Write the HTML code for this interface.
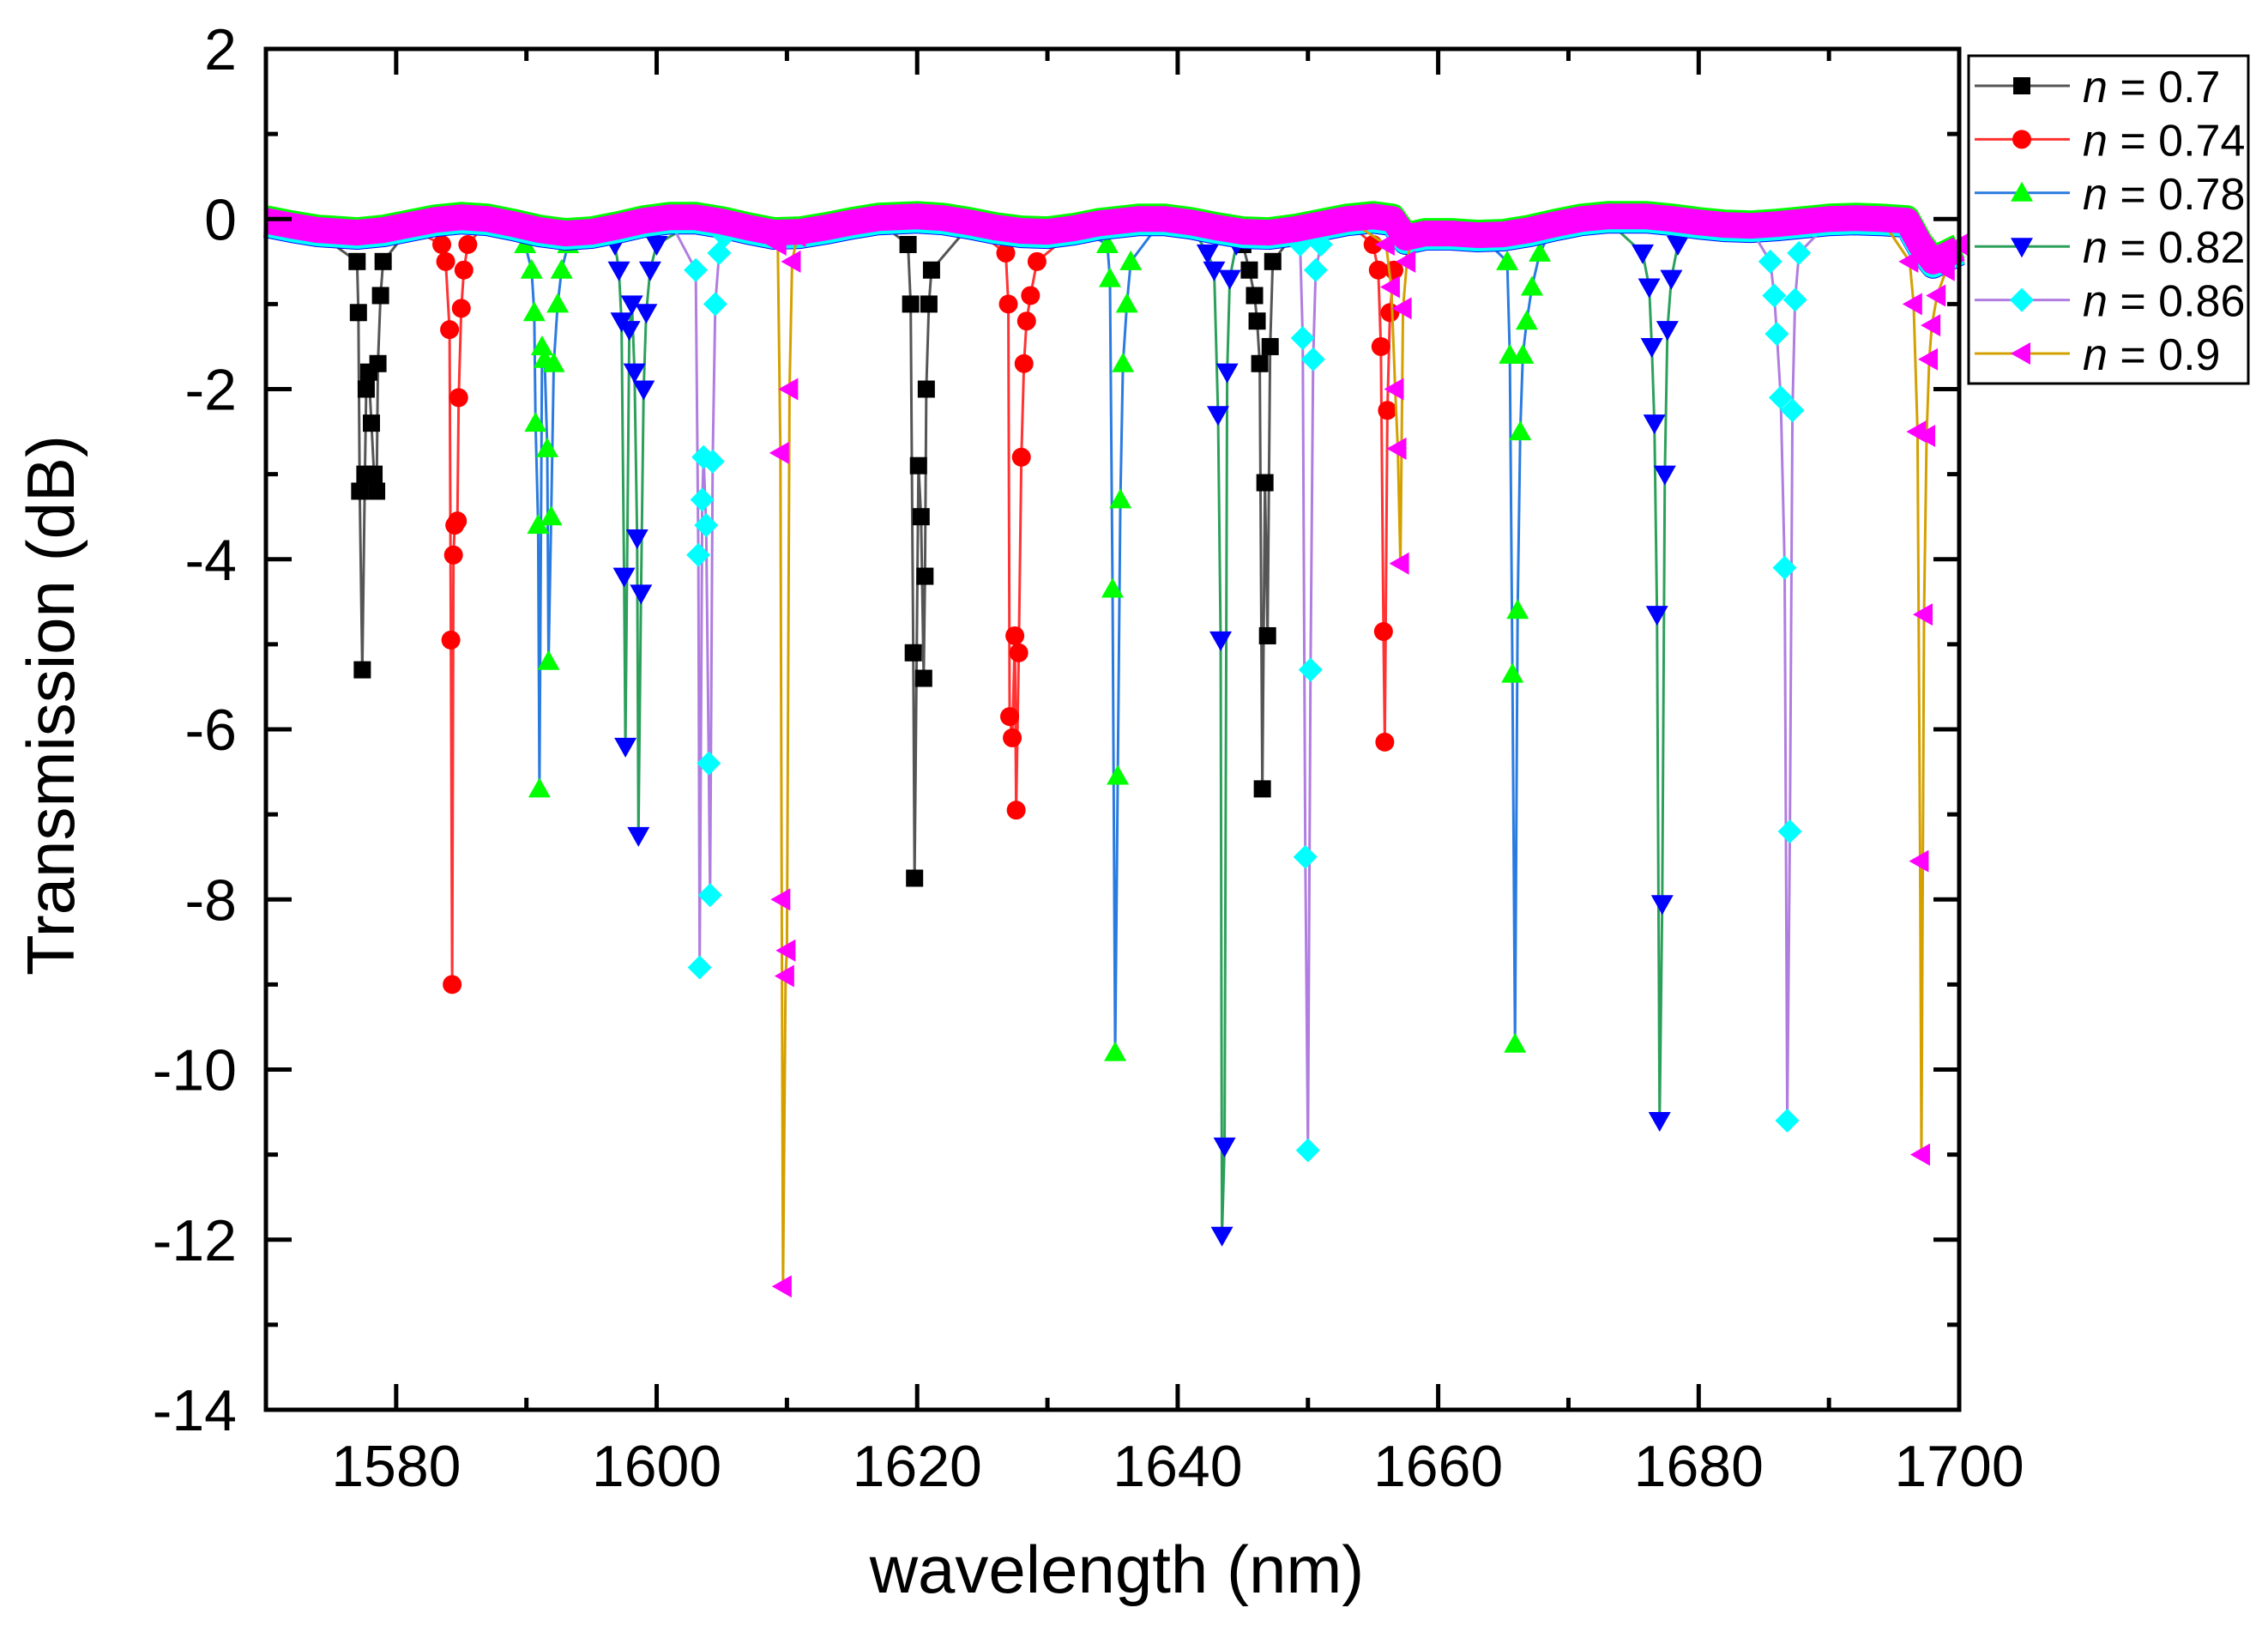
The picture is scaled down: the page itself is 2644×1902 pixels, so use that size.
<!DOCTYPE html>
<html><head><meta charset="utf-8"><style>
html,body{margin:0;padding:0;background:#fff}
svg{display:block;font-family:"Liberation Sans",sans-serif}
</style></head><body>
<svg id="chart" width="2644" height="1902" viewBox="0 0 2644 1902" xmlns="http://www.w3.org/2000/svg">
<g id="plot"></g>
<g id="axes"></g>
<text x="1302" y="1856" font-size="78" text-anchor="middle">wavelength (nm)</text>
<text transform="translate(86,822) rotate(-90)" font-size="78" text-anchor="middle">Transmission (dB)</text>
<g id="legend"></g>
</svg>
<script>
const xTicks = [1580,1600,1620,1640,1660,1680,1700];
const yTicks = [2,0,-2,-4,-6,-8,-10,-12,-14];
const seriesNames = ["0.7","0.74","0.78","0.82","0.86","0.9"];
const baseWl = [1570,1572,1574,1577,1579,1581,1583,1585,1587,1589,1591,1593,1595,1597,1599,1601,1603,1605,1607,1609,1611,1613,1615,1617,1620,1622,1624,1626,1628,1630,1632,1634,1637,1639,1641,1643,1645,1647,1649,1651,1653,1655,1656.5,1657.5,1659,1661,1663,1665,1667,1669,1671,1673,1676,1678,1680,1682,1684,1686,1688,1690,1692,1694,1696,1697,1698,1700];
const baseVal = [-0.02,-0.08,-0.13,-0.16,-0.13,-0.07,-0.01,0.02,0.0,-0.06,-0.13,-0.17,-0.15,-0.09,-0.02,0.02,0.02,-0.03,-0.1,-0.16,-0.15,-0.1,-0.04,0.01,0.03,0.01,-0.04,-0.1,-0.14,-0.15,-0.11,-0.05,0.0,0.0,-0.04,-0.1,-0.15,-0.16,-0.12,-0.06,0.0,0.03,0.0,-0.22,-0.17,-0.17,-0.19,-0.18,-0.13,-0.06,0.0,0.03,0.03,0.0,-0.04,-0.07,-0.08,-0.06,-0.03,0.0,0.01,0.0,-0.02,-0.3,-0.5,-0.35];
const dips07 = [[1577.0,-0.5],[1577.1,-1.1],[1577.2,-3.2],[1577.4,-5.3],[1577.6,-3.0],[1577.7,-2.0],[1577.9,-1.8],[1578.1,-2.4],[1578.3,-3.0],[1578.5,-3.2],[1578.6,-1.7],[1578.8,-0.9],[1579.0,-0.5],
 [1619.3,-0.3],[1619.5,-1.0],[1619.7,-5.1],[1619.8,-7.75],[1620.1,-2.9],[1620.3,-3.5],[1620.5,-5.4],[1620.6,-4.2],[1620.7,-2.0],[1620.9,-1.0],[1621.1,-0.6],
 [1645.0,-0.3],[1645.5,-0.6],[1645.9,-0.9],[1646.1,-1.2],[1646.3,-1.7],[1646.5,-6.7],[1646.7,-3.1],[1646.9,-4.9],[1647.1,-1.5],[1647.3,-0.5]];
const dips074 = [[1583.5,-0.3],[1583.8,-0.5],[1584.1,-1.3],[1584.2,-4.95],[1584.3,-9.0],[1584.4,-3.95],[1584.5,-3.6],[1584.7,-3.55],[1584.8,-2.1],[1585.0,-1.05],[1585.2,-0.6],[1585.5,-0.3],
 [1626.8,-0.4],[1627.0,-1.0],[1627.1,-5.85],[1627.3,-6.1],[1627.5,-4.9],[1627.6,-6.95],[1627.8,-5.1],[1628.0,-2.8],[1628.2,-1.7],[1628.4,-1.2],[1628.7,-0.9],[1629.2,-0.5],
 [1655.0,-0.3],[1655.4,-0.6],[1655.6,-1.5],[1655.8,-4.85],[1655.9,-6.15],[1656.1,-2.25],[1656.3,-1.1],[1656.6,-0.6]];
const dips078 = [[1589.9,-0.3],[1590.4,-0.6],[1590.6,-1.1],[1590.7,-2.4],[1590.9,-3.6],[1591.0,-6.7],[1591.2,-1.5],[1591.4,-1.65],[1591.6,-2.7],[1591.7,-5.2],[1591.9,-3.5],[1592.1,-1.7],[1592.4,-1.0],[1592.7,-0.6],[1593.2,-0.3],
 [1634.6,-0.3],[1634.8,-0.7],[1635.0,-4.35],[1635.2,-9.8],[1635.4,-6.55],[1635.6,-3.3],[1635.8,-1.7],[1636.1,-1.0],[1636.4,-0.5],
 [1665.3,-0.5],[1665.5,-1.6],[1665.7,-5.35],[1665.9,-9.7],[1666.1,-4.6],[1666.3,-2.5],[1666.5,-1.6],[1666.8,-1.2],[1667.2,-0.8],[1667.8,-0.4]];
const dips082 = [[1596.8,-0.3],[1597.1,-0.6],[1597.3,-1.2],[1597.5,-4.2],[1597.6,-6.2],[1597.9,-1.3],[1598.1,-1.0],[1598.3,-1.8],[1598.5,-3.75],[1598.6,-7.25],[1598.8,-4.4],[1599.0,-2.0],[1599.2,-1.1],[1599.5,-0.6],[1600.0,-0.3],
 [1642.3,-0.4],[1642.8,-0.6],[1643.1,-2.3],[1643.3,-4.95],[1643.4,-11.95],[1643.6,-10.9],[1643.8,-1.8],[1644.0,-0.7],[1644.5,-0.3],
 [1675.7,-0.4],[1676.2,-0.8],[1676.4,-1.5],[1676.6,-2.4],[1676.8,-4.65],[1677.0,-10.6],[1677.2,-8.05],[1677.4,-3.0],[1677.6,-1.3],[1677.9,-0.7],[1678.4,-0.3]];
const dips086 = [[1603.0,-0.6],[1603.2,-3.95],[1603.3,-8.8],[1603.5,-3.3],[1603.6,-2.8],[1603.8,-3.6],[1604.0,-6.4],[1604.1,-7.95],[1604.3,-2.85],[1604.5,-1.0],[1604.8,-0.4],[1605.2,-0.2],
 [1649.4,-0.3],[1649.6,-1.4],[1649.8,-7.5],[1650.0,-10.95],[1650.2,-5.3],[1650.4,-1.65],[1650.6,-0.6],[1651.0,-0.3],
 [1685.5,-0.5],[1685.8,-0.9],[1686.0,-1.35],[1686.3,-2.1],[1686.6,-4.1],[1686.8,-10.6],[1687.0,-7.2],[1687.2,-2.25],[1687.4,-0.95],[1687.7,-0.4]];
const dips090 = [[1609.3,-0.3],[1609.5,-2.75],[1609.6,-8.0],[1609.7,-12.55],[1609.9,-8.9],[1610.0,-8.6],[1610.2,-2.0],[1610.4,-0.5],[1610.8,-0.2],
 [1656.0,-0.3],[1656.4,-0.8],[1656.7,-2.0],[1656.9,-2.7],[1657.1,-4.05],[1657.3,-1.05],[1657.6,-0.5],[1658.0,-0.2],
 [1696.2,-0.5],[1696.5,-1.0],[1696.8,-2.5],[1697.0,-7.55],[1697.1,-11.0],[1697.3,-4.65],[1697.5,-2.55],[1697.7,-1.65],[1697.9,-1.25],[1698.3,-0.9],[1699.0,-0.6],[1700.0,-0.3]];

const NS="http://www.w3.org/2000/svg";
const L=310,R=2284,T=57,B=1643;
const xMin=1570,xMax=1700,yMin=-14,yMax=2;
const sx=v=>L+(v-xMin)/(xMax-xMin)*(R-L);
const sy=v=>T+(yMax-v)/(yMax-yMin)*(B-T);
function mk(tag,attrs,parent){const e=document.createElementNS(NS,tag);for(const k in attrs)e.setAttribute(k,attrs[k]);parent.appendChild(e);return e;}

const styles=[
 {line:"#555",mark:"#000",shape:"square"},
 {line:"#f33",mark:"#f00",shape:"circle"},
 {line:"#2a7be0",mark:"#0f0",shape:"up"},
 {line:"#2ca05a",mark:"#00f",shape:"down"},
 {line:"#b07de0",mark:"#0ff",shape:"diamond"},
 {line:"#d4a000",mark:"#f0f",shape:"left"}];
const allDips=[dips07,dips074,dips078,dips082,dips086,dips090];
const offsets=[-0.04,-0.03,0.03,-0.05,-0.04,0];
const plot=document.getElementById('plot');

function marker(shape,x,y,s,color,parent){
 let e;
 if(shape==="square") e=mk('rect',{x:x-s,y:y-s,width:2*s,height:2*s,fill:color},parent);
 else if(shape==="circle") e=mk('circle',{cx:x,cy:y,r:s*1.1,fill:color},parent);
 else {
  let p;
  if(shape==="up") p=[[x,y-s*1.3],[x+s*1.3,y+s],[x-s*1.3,y+s]];
  if(shape==="down") p=[[x,y+s*1.3],[x+s*1.3,y-s],[x-s*1.3,y-s]];
  if(shape==="diamond") p=[[x,y-s*1.4],[x+s*1.4,y],[x,y+s*1.4],[x-s*1.4,y]];
  if(shape==="left") p=[[x-s*1.3,y],[x+s,y-s*1.3],[x+s,y+s*1.3]];
  e=mk('polygon',{points:p.map(q=>q.join(',')).join(' '),fill:color},parent);
 }
 return e;
}

allDips.forEach((dips,i)=>{
 const st=styles[i];
 const off=offsets[i];
 const g=mk('g',{},plot);
 
 
 const merged=dips.map(d=>[d[0],d[1]]);
 baseWl.forEach((w,j)=>{
  const near=dips.some(d=>Math.abs(d[0]-w)<1.2);
  if(!near) merged.push([w,baseVal[j]+off]);
 });
 merged.sort((a,b)=>a[0]-b[0]);
 const ln=mk('polyline',{points:merged.map(d=>sx(d[0])+','+sy(d[1])).join(' '),fill:'none',stroke:st.line,'stroke-width':3},g);
 
 
 const band=mk('polyline',{points:baseWl.map((w,j)=>sx(w)+','+sy(baseVal[j]+off)).join(' '),fill:'none',stroke:st.mark,'stroke-width':30,'stroke-linejoin':'round'},g);
 
 
 dips.forEach(d=>{
  const m=marker(st.shape,sx(d[0]),sy(d[1]),10,st.mark,g);
  
  
 });
});

const ax=document.getElementById('axes');
const frame=mk('rect',{x:L,y:T,width:R-L,height:B-T,fill:'none',stroke:'#000','stroke-width':5},ax);


for(let v=xMin;v<=xMax;v+=10){
 const major=xTicks.includes(v);const len=major?30:14;const x=sx(v);
 mk('line',{x1:x,y1:B,x2:x,y2:B-len,stroke:'#000','stroke-width':5},ax);
 mk('line',{x1:x,y1:T,x2:x,y2:T+len,stroke:'#000','stroke-width':5},ax);
}
xTicks.forEach(v=>{
 const t=mk('text',{x:sx(v),y:1732,'font-size':68,'text-anchor':'middle'},ax);
 t.textContent=v;
 
 
});
for(let v=yMin;v<=yMax;v+=1){
 const major=yTicks.includes(v);const len=major?30:14;const y=sy(v);
 mk('line',{x1:L,y1:y,x2:L+len,y2:y,stroke:'#000','stroke-width':5},ax);
 mk('line',{x1:R,y1:y,x2:R-len,y2:y,stroke:'#000','stroke-width':5},ax);
}
yTicks.forEach(v=>{
 const t=mk('text',{x:276,y:sy(v)+24,'font-size':68,'text-anchor':'end'},ax);
 t.textContent=v;
 
 
});

const lg=document.getElementById('legend');
mk('rect',{x:2295,y:65,width:326,height:382,fill:'#fff',stroke:'#000','stroke-width':3},lg);
seriesNames.forEach((n,i)=>{
 const st=styles[i];const y=100+i*62.4;
 const e=mk('g',{},lg);
 
 
 mk('line',{x1:2302,y1:y,x2:2413,y2:y,stroke:st.line,'stroke-width':3},e);
 marker(st.shape,2357,y,10,st.mark,e);
 const t=mk('text',{x:2428,y:y+19,'font-size':52},e);
 t.innerHTML='<tspan font-style="italic">n</tspan> = '+n;
});
</script>
</body></html>
